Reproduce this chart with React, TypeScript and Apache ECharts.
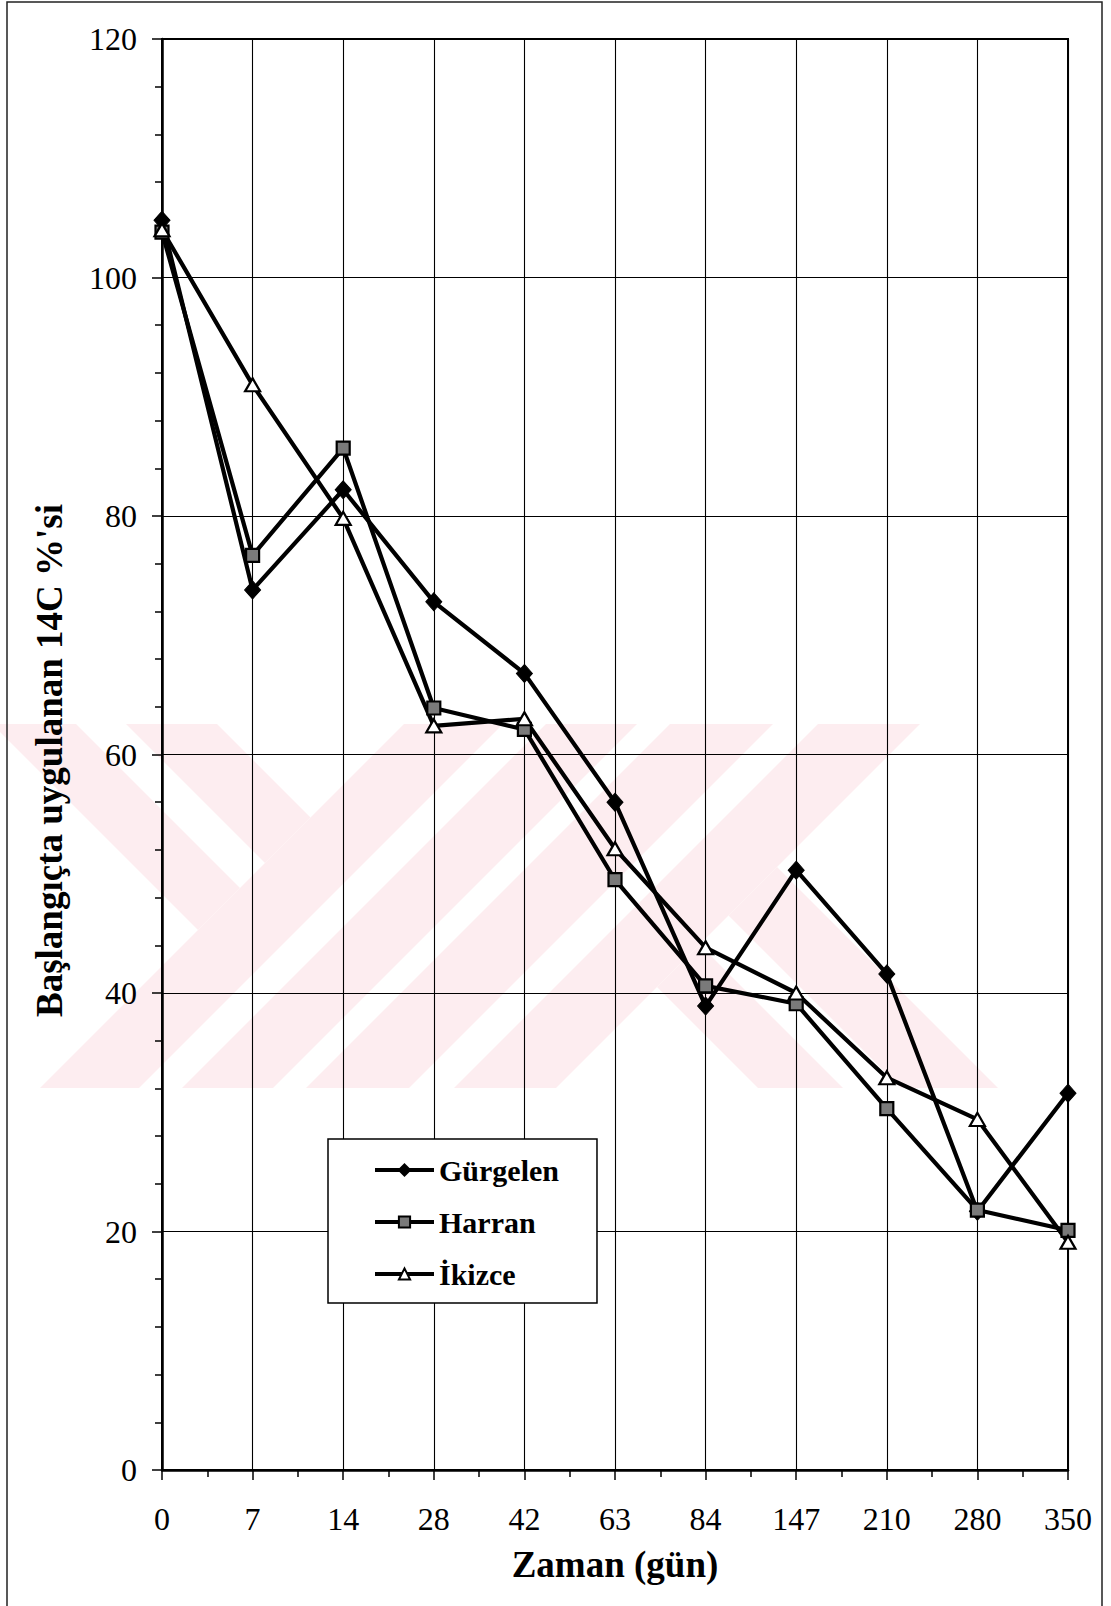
import React, { useEffect, useRef } from "react";
import * as echarts from "echarts";

// ---- data ----
const days: string[] = ["0", "7", "14", "28", "42", "63", "84", "147", "210", "280", "350"];
const gurgelen: number[] = [104.8, 73.8, 82.2, 72.8, 66.8, 56.0, 38.9, 50.3, 41.6, 21.7, 31.6];
const harran: number[] = [103.8, 76.7, 85.7, 63.9, 62.1, 49.5, 40.6, 39.1, 30.3, 21.8, 20.1];
const ikizce: number[] = [104.0, 91.0, 79.8, 62.4, 63.0, 52.1, 43.8, 40.0, 32.9, 29.4, 19.1];
const seriesNames: string[] = ["Gürgelen", "Harran", "İkizce"];
const yMin = 0;
const yMax = 120;
const yStep = 20;

const FONT = '"Liberation Serif", "Times New Roman", serif';

type P = [number, number];
function clipHalf(poly: P[], a: number, b: number, c: number): P[] {
  const out: P[] = [];
  for (let i = 0; i < poly.length; i++) {
    const p = poly[i];
    const q = poly[(i + 1) % poly.length];
    const fp = a * p[0] + b * p[1] - c;
    const fq = a * q[0] + b * q[1] - c;
    if (fp <= 0) out.push(p);
    if ((fp < 0 && fq > 0) || (fp > 0 && fq < 0)) {
      const t = fp / (fp - fq);
      out.push([p[0] + t * (q[0] - p[0]), p[1] + t * (q[1] - p[1])]);
    }
  }
  return out;
}
// sum = x+y in [lo,hi], diff = x-y in [lo,hi]
function band(sum?: [number, number], diff?: [number, number]): P[] {
  let poly: P[] = [
    [0, 724],
    [1140, 724],
    [1140, 1088],
    [0, 1088],
  ];
  if (sum) {
    poly = clipHalf(poly, -1, -1, -sum[0]);
    poly = clipHalf(poly, 1, 1, sum[1]);
  }
  if (diff) {
    poly = clipHalf(poly, -1, 1, -diff[0]);
    poly = clipHalf(poly, 1, -1, diff[1]);
  }
  return poly;
}

function watermark(): any[] {
  const shapes: P[][] = [
    band([-10000, 1128], [-732, -648]),
    band([-10000, 1128], [-598, -507]),
    band([1128, 1227]),
    band([1270, 1361]),
    band([1394, 1497]),
    band([1542, 1644]),
    band([1644, 10000], [-330, -245]),
    band([1644, 10000], [-187, -90]),
  ];
  return shapes
    .filter((s) => s.length > 2)
    .map((s) => ({
      type: "polygon",
      z: -10,
      silent: true,
      shape: { points: s },
      style: { fill: "#fdedf0", stroke: "none" },
    }));
}

export default function App() {
  const ref = useRef<HTMLDivElement>(null);
  useEffect(() => {
    document.body.style.margin = "0";
    document.body.style.overflow = "hidden";
    if (!ref.current) return;
    const chart = echarts.init(ref.current, null, { renderer: "svg" });
    const toPts = (arr: number[]) => arr.map((v, i) => [i, v]);
    const lineStyle = { color: "#000", width: 4.2 };
    const option: any = {
      animation: false,
      backgroundColor: "#ffffff",
      textStyle: { fontFamily: FONT },
      grid: {
        left: 162,
        top: 39,
        width: 906,
        height: 1431,
        show: true,
        borderColor: "#000",
        borderWidth: 2,
        backgroundColor: "transparent",
        z: 1,
      },
      xAxis: {
        type: "value",
        min: 0,
        max: days.length - 1,
        interval: 1,
        name: "Zaman (gün)",
        nameLocation: "middle",
        nameGap: 76,
        nameTextStyle: { fontSize: 37, fontWeight: "bold", color: "#000", fontFamily: FONT },
        axisLine: { show: true, onZero: false, lineStyle: { color: "#000", width: 2.5 } },
        axisTick: { show: true, length: 10, lineStyle: { color: "#000", width: 1.5 } },
        minorTick: { show: true, splitNumber: 2, length: 7, lineStyle: { color: "#000", width: 1.5 } },
        minorSplitLine: { show: false },
        axisLabel: {
          formatter: (v: number) => days[Math.round(v)] ?? "",
          margin: 33,
          fontSize: 32,
          color: "#000",
          fontFamily: FONT,
        },
        splitLine: { show: true, lineStyle: { color: "#000", width: 1.1 } },
      },
      yAxis: {
        type: "value",
        min: yMin,
        max: yMax,
        interval: yStep,
        name: "Başlangıçta uygulanan 14C %'si",
        nameLocation: "middle",
        nameGap: 94,
        nameTextStyle: {
          fontSize: 37,
          fontWeight: "bold",
          color: "#000",
          fontFamily: FONT,
          padding: [0, 12, 0, 0],
        },
        axisLine: { show: true, lineStyle: { color: "#000", width: 2.5 } },
        axisTick: { show: true, length: 10, lineStyle: { color: "#000", width: 1.5 } },
        minorTick: { show: true, splitNumber: 5, length: 7, lineStyle: { color: "#000", width: 1.5 } },
        minorSplitLine: { show: false },
        axisLabel: { margin: 25, fontSize: 32, color: "#000", fontFamily: FONT },
        splitLine: { show: true, lineStyle: { color: "#000", width: 1.1 } },
      },
      legend: {
        data: seriesNames,
        orient: "vertical",
        left: 328,
        top: 1139,
        padding: [16, 38, 14, 45],
        itemWidth: 59,
        itemHeight: 14,
        itemGap: 22,
        selectedMode: false,
        backgroundColor: "#ffffff",
        borderColor: "#000",
        borderWidth: 1.5,
        lineStyle: { color: "#000", width: 4 },
        textStyle: { fontSize: 30, fontWeight: "bold", color: "#000", fontFamily: FONT },
      },
      graphic: [
        ...watermark(),
        {
          type: "rect",
          z: 100,
          silent: true,
          shape: { x: 7, y: 2, width: 1095, height: 1640 },
          style: { fill: "none", stroke: "#222", lineWidth: 1.5 },
        },
      ],
      series: [
        {
          name: seriesNames[0],
          type: "line",
          data: toPts(gurgelen),
          symbol: "diamond",
          symbolSize: [16, 18],
          lineStyle,
          itemStyle: { color: "#000", borderColor: "#000", borderWidth: 1 },
          z: 5,
        },
        {
          name: seriesNames[1],
          type: "line",
          data: toPts(harran),
          symbol: "rect",
          symbolSize: 13,
          lineStyle,
          itemStyle: { color: "#7a7a7a", borderColor: "#000", borderWidth: 2.2 },
          z: 5,
        },
        {
          name: seriesNames[2],
          type: "line",
          data: toPts(ikizce),
          symbol: "triangle",
          symbolSize: [15, 13],
          lineStyle,
          itemStyle: { color: "#ffffff", borderColor: "#000", borderWidth: 2.2 },
          z: 5,
        },
      ],
    };
    chart.setOption(option);
    return () => chart.dispose();
  }, []);
  return <div ref={ref} style={{ width: 1111, height: 1606 }} />;
}
